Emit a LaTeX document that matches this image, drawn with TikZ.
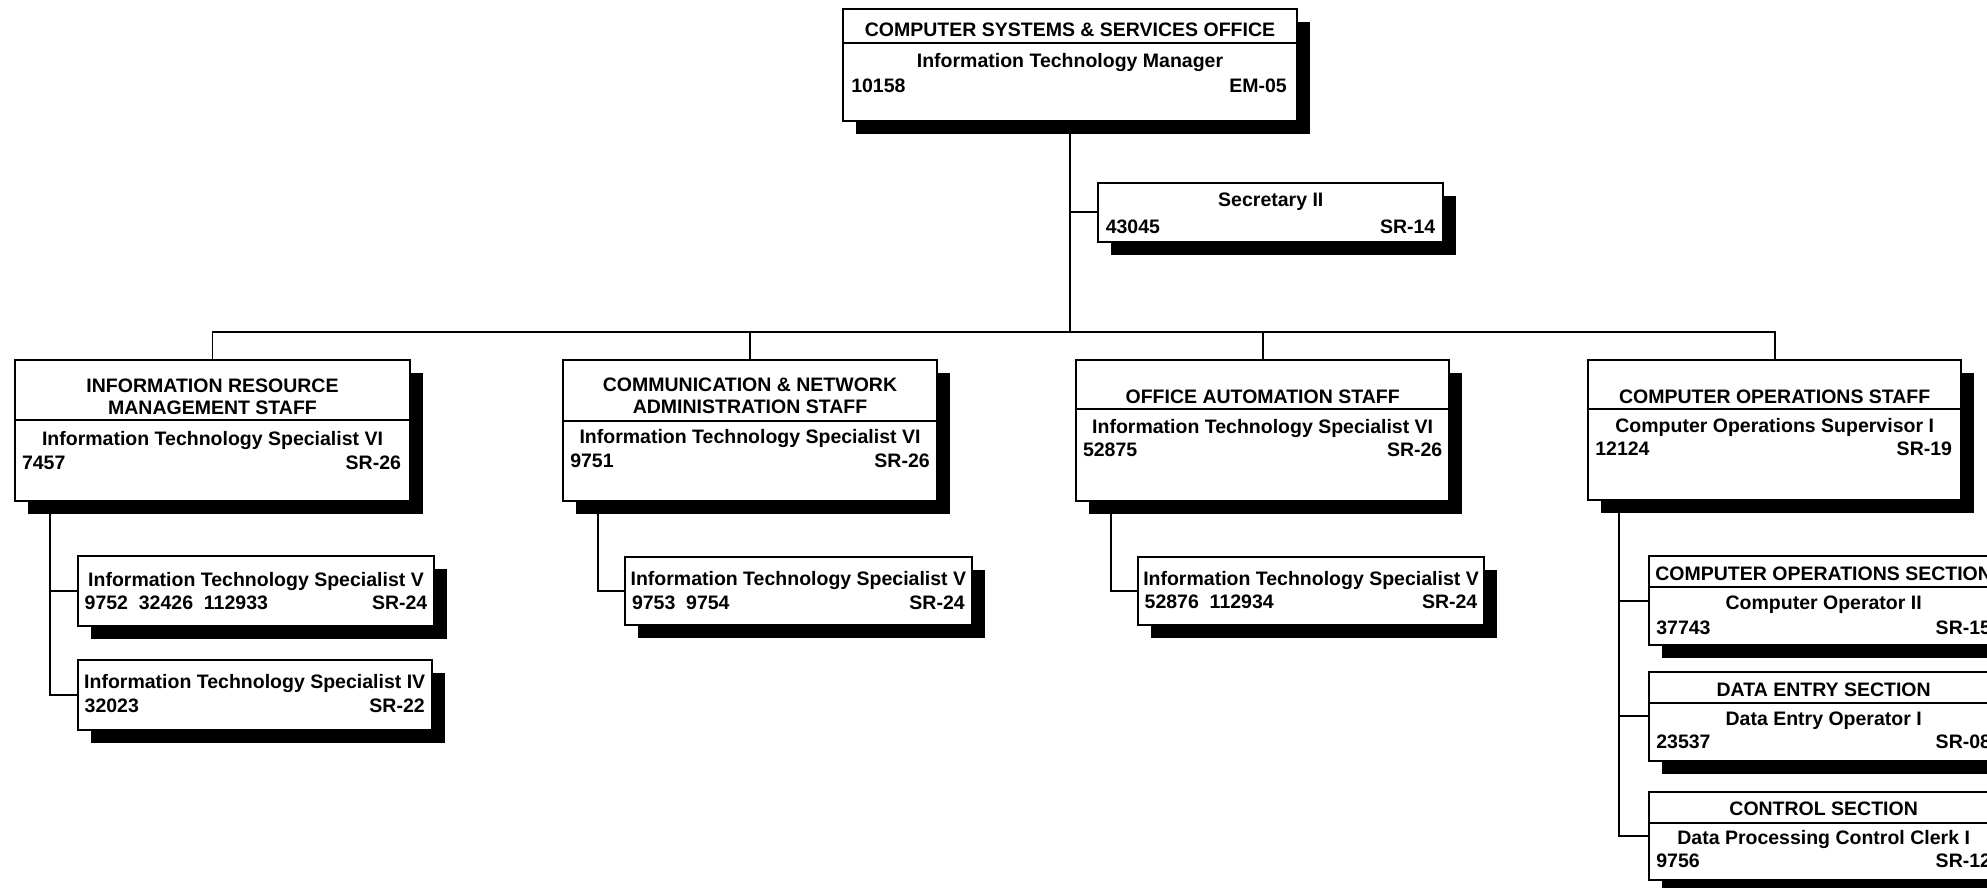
\documentclass[tikz,border=0pt]{standalone}
\usepackage{fontspec}
\setmainfont{Liberation Sans}
\usetikzlibrary{calc}
\tikzset{
  obox/.style={draw=black, fill=white, line width=1.8pt, rectangle, inner sep=0pt, outer sep=0pt},
  shadowc/.style={fill=black},
  txt/.style={inner sep=0pt, outer sep=0pt, font=\fontsize{19.5}{22}\selectfont\bfseries},
  conn/.style={draw=black, line width=1.8pt},
  divline/.style={draw=black, line width=1.8pt}
}
% name, x1, y1, x2, y2
\newcommand\orgbox[5]{%
  \fill[shadowc] ({#2+13},{#3+13}) rectangle ({#4+13},{#5+13});
  \node[obox, minimum width={(#4)-(#2)}, minimum height={(#5)-(#3)}] (#1) at ({((#2)+(#4))/2},{((#3)+(#5))/2}) {};
}
% box, y
\newcommand\orgdiv[2]{\draw[divline] (#1.west |- 0,#2) -- (#1.east |- 0,#2);}
% name, box, baseline y, text
\newcommand\ctxt[4]{\node[txt, anchor=base] (#1) at (#2.center |- 0,#3) {#4};}
% name, box, baseline y, pad, text
\newcommand\ltxt[5]{\node[txt, anchor=base west] (#1) at ($(#2.west |- 0,#3)+(#4,-2.5)$) {#5};}
\newcommand\rtxt[5]{\node[txt, anchor=base east] (#1) at ($(#2.east |- 0,#3)-(#4,2.5)$) {#5};}
\begin{document}
\begin{tikzpicture}[x=1pt, y=-1pt]
\useasboundingbox (0,0) rectangle (1987,888);
\clip (0,0) rectangle (1987,888);

% top
\orgbox{top}{843.3}{9.3}{1296.7}{121}
\orgdiv{top}{43.3}
\ctxt{topa}{top}{36.8}{COMPUTER SYSTEMS \& SERVICES OFFICE}
\ctxt{topb}{top}{67.7}{Information Technology Manager}
\ltxt{topc}{top}{95}{8}{10158}
\rtxt{topd}{top}{95}{10}{EM-05}

% secretary
\orgbox{sec}{1098.3}{182.7}{1443.3}{241.7}
\ctxt{seca}{sec}{206.3}{Secretary II}
\ltxt{secb}{sec}{236}{7.5}{43045}
\rtxt{secc}{sec}{236}{8}{SR-14}

% IRM
\orgbox{irm}{15}{360}{410}{501}
\orgdiv{irm}{420}
\ctxt{irma}{irm}{392}{INFORMATION RESOURCE}
\ctxt{irmb}{irm}{414.3}{MANAGEMENT STAFF}
\ctxt{irmc}{irm}{445.3}{Information Technology Specialist VI}
\ltxt{irmd}{irm}{472}{7}{7457}
\rtxt{irme}{irm}{472}{9}{SR-26}

\orgbox{irmv}{77.7}{556}{434.3}{626}
\ctxt{irmva}{irmv}{586.3}{Information Technology Specialist V}
\ltxt{irmvb}{irmv}{612}{7}{9752\ \ 32426\ \ 112933}
\rtxt{irmvc}{irmv}{612}{7}{SR-24}

\orgbox{irmiv}{77.7}{660}{431.7}{730}
\ctxt{irmiva}{irmiv}{688.7}{Information Technology Specialist IV}
\ltxt{irmivb}{irmiv}{715.3}{7}{32023}
\rtxt{irmivc}{irmiv}{715.3}{7}{SR-22}

% CNA
\orgbox{cna}{563.3}{360}{936.7}{501}
\orgdiv{cna}{421}
\ctxt{cnaa}{cna}{391.3}{COMMUNICATION \& NETWORK}
\ctxt{cnab}{cna}{413}{ADMINISTRATION STAFF}
\ctxt{cnac}{cna}{443.7}{Information Technology Specialist VI}
\ltxt{cnad}{cna}{470.3}{7}{9751}
\rtxt{cnae}{cna}{470.3}{7}{SR-26}

\orgbox{cnav}{625}{556.7}{971.7}{625}
\ctxt{cnava}{cnav}{585.3}{Information Technology Specialist V}
\ltxt{cnavb}{cnav}{612}{7}{9753\ \ 9754}
\rtxt{cnavc}{cnav}{612}{7}{SR-24}

% OA
\orgbox{oa}{1076}{360}{1449.3}{501}
\orgdiv{oa}{409.3}
\ctxt{oaa}{oa}{403}{OFFICE AUTOMATION STAFF}
\ctxt{oab}{oa}{433}{Information Technology Specialist VI}
\ltxt{oac}{oa}{458.7}{7}{52875}
\rtxt{oad}{oa}{458.7}{7}{SR-26}

\orgbox{oav}{1137.7}{556.7}{1484.3}{625}
\ctxt{oava}{oav}{585.3}{Information Technology Specialist V}
\ltxt{oavb}{oav}{611.3}{7}{52876\ \ 112934}
\rtxt{oavc}{oav}{611.3}{7}{SR-24}

% COS
\orgbox{cos}{1588.3}{360}{1961}{500}
\orgdiv{cos}{409.3}
\ctxt{cosa}{cos}{403}{COMPUTER OPERATIONS STAFF}
\ctxt{cosb}{cos}{432}{Computer Operations Supervisor I}
\ltxt{cosc}{cos}{458}{7}{12124}
\rtxt{cosd}{cos}{458}{9}{SR-19}

\orgbox{sa}{1649.3}{556}{1998}{645.3}
\orgdiv{sa}{587.3}
\ctxt{saa}{sa}{580.3}{COMPUTER OPERATIONS SECTION}
\ctxt{sab}{sa}{609.7}{Computer Operator II}
\ltxt{sac}{sa}{637}{7}{37743}
\rtxt{sad}{sa}{637}{7}{SR-15}

\orgbox{sb}{1649.3}{671.7}{1998}{761}
\orgdiv{sb}{703.3}
\ctxt{sba}{sb}{696.3}{DATA ENTRY SECTION}
\ctxt{sbb}{sb}{725.3}{Data Entry Operator I}
\ltxt{sbc}{sb}{751}{7}{23537}
\rtxt{sbd}{sb}{751}{7}{SR-08}

\orgbox{sc}{1649.3}{791.7}{1998}{880}
\orgdiv{sc}{823.3}
\ctxt{sca}{sc}{815.3}{CONTROL SECTION}
\ctxt{scb}{sc}{844.7}{Data Processing Control Clerk I}
\ltxt{scc}{sc}{870.3}{7}{9756}
\rtxt{scd}{sc}{870.3}{7}{SR-12}

% connectors
\coordinate (bus) at (1070,332);
\draw[conn] (top.south) -- (bus);
\draw[conn] (top.south |- sec.west) -- (sec.west);
\draw[conn] (irm.north) |- (bus) -| (cos.north);
\draw[conn] (cna.north) -- (cna.north |- bus);
\draw[conn] (oa.north) -- (oa.north |- bus);

\coordinate (irmL) at (50,501);
\draw[conn] (irmL) |- (irmiv.west);
\draw[conn] (irmL |- irmv.west) -- (irmv.west);

\coordinate (cnaL) at (597.7,501);
\draw[conn] (cnaL) |- (cnav.west);

\coordinate (oaL) at (1110.7,501);
\draw[conn] (oaL) |- (oav.west);

\coordinate (cosL) at (1619,500);
\draw[conn] (cosL) |- (sc.west);
\draw[conn] (cosL |- sa.west) -- (sa.west);
\draw[conn] (cosL |- sb.west) -- (sb.west);
\end{tikzpicture}
\end{document}
